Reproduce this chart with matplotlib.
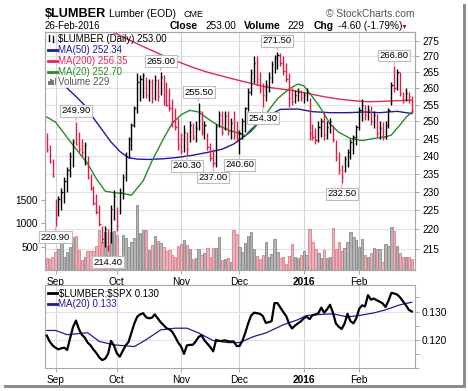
import numpy as np
import pandas as pd
import matplotlib
matplotlib.use('Agg')
import matplotlib.pyplot as plt
from matplotlib.ticker import FixedLocator, NullLocator, FormatStrFormatter, MultipleLocator
from matplotlib.patches import Rectangle
from matplotlib.lines import Line2D
import matplotlib.transforms as mtransforms

plt.rcParams['font.family'] = ['Liberation Sans', 'DejaVu Sans']

# trading days shown on the chart
holidays = ['2015-09-07', '2015-11-26', '2015-12-25', '2016-01-01', '2016-01-18', '2016-02-15']
dates = pd.bdate_range('2015-08-27', '2016-02-26')
dates = dates[~dates.isin(pd.to_datetime(holidays))]

month_starts = ['2015-09-01', '2015-10-01', '2015-11-01', '2015-12-01', '2016-01-01', '2016-02-01']
month_labels = ['Sep', 'Oct', 'Nov', 'Dec', '2016', 'Feb']

high = [
    246.5, 243.0, 239.0, 228.0, 229.0, 231.0, 234.0, 237.0, 241.0, 245.0,
    249.9, 247.0, 245.0, 244.0, 240.0, 235.0, 231.5, 229.5, 226.5, 221.0,
    221.0, 220.0, 226.5, 230.5, 226.0, 231.0, 235.0, 241.0, 245.5, 249.5,
    254.5, 264.7, 264.0, 264.7, 263.5, 263.0, 263.0, 264.0, 263.0, 265.0,
    264.0, 262.0, 260.0, 256.8, 254.0, 251.0, 246.5, 249.0, 247.0, 250.0,
    249.5, 250.0, 255.5, 253.0, 250.0, 246.5, 243.6, 242.0, 249.3, 253.0,
    253.0, 253.0, 253.0, 251.0, 253.0, 250.0, 247.5, 251.0, 254.4, 260.0,
    266.0, 270.0, 270.0, 265.0, 261.5, 262.5, 265.0, 268.5, 270.5, 271.5,
    271.0, 270.0, 268.0, 264.7, 260.0, 259.5, 260.0, 259.5, 259.0, 260.0,
    257.0, 249.3, 248.0, 250.0, 251.0, 252.4, 250.0, 251.0, 249.0, 244.6,
    241.0, 237.5, 240.0, 242.0, 245.0, 246.0, 249.0, 254.4, 256.8, 255.0,
    255.0, 254.5, 253.0, 252.3, 250.0, 249.8, 250.0, 254.0, 262.0, 266.8,
    266.0, 265.0, 259.0, 260.0, 259.0, 257.6]
low = [
    241.0, 238.0, 234.0, 220.9, 223.5, 225.0, 227.0, 230.0, 234.0, 237.0,
    243.0, 241.0, 240.0, 237.5, 233.5, 230.5, 226.5, 224.0, 221.0, 216.5,
    215.5, 214.4, 216.5, 222.5, 219.5, 224.0, 228.0, 233.0, 239.5, 241.8,
    248.5, 252.5, 256.0, 257.0, 257.0, 256.0, 255.5, 256.5, 256.0, 258.0,
    255.0, 254.5, 253.0, 248.5, 247.5, 241.8, 240.5, 241.0, 240.3, 244.0,
    244.5, 244.0, 247.5, 246.0, 245.0, 241.8, 238.6, 237.0, 237.0, 248.5,
    246.0, 247.5, 246.0, 245.0, 245.0, 244.0, 240.6, 245.0, 247.0, 253.0,
    258.0, 261.5, 261.0, 258.5, 254.3, 256.0, 259.0, 261.5, 264.7, 266.0,
    267.0, 264.0, 262.0, 254.4, 255.0, 255.5, 256.0, 256.0, 255.5, 256.0,
    244.6, 244.6, 243.5, 244.0, 245.5, 244.6, 245.0, 246.5, 244.0, 238.6,
    234.8, 232.5, 235.5, 237.0, 239.0, 240.5, 243.0, 247.5, 250.0, 250.5,
    250.5, 249.0, 248.0, 245.5, 245.0, 244.6, 245.0, 248.0, 255.0, 259.0,
    259.5, 257.5, 255.5, 256.0, 255.5, 252.4]
close = [
    242.0, 238.5, 234.5, 223.0, 228.0, 230.0, 233.0, 236.0, 240.0, 244.0,
    243.5, 242.0, 241.0, 243.0, 234.0, 231.0, 227.0, 224.5, 221.5, 217.5,
    220.0, 216.0, 225.5, 229.0, 221.0, 230.0, 234.0, 240.0, 245.0, 249.0,
    254.0, 262.0, 263.0, 264.0, 258.0, 262.0, 257.0, 262.5, 257.5, 263.5,
    256.0, 255.0, 254.0, 250.0, 248.5, 243.0, 241.5, 247.0, 242.0, 249.0,
    245.5, 248.0, 253.0, 247.0, 249.0, 242.5, 239.5, 238.0, 248.5, 252.0,
    247.0, 251.5, 247.0, 249.5, 246.0, 245.0, 246.5, 250.0, 254.0, 259.0,
    265.0, 268.0, 263.0, 259.5, 258.0, 261.0, 263.5, 267.5, 269.5, 270.5,
    268.0, 265.5, 263.0, 257.0, 256.0, 258.0, 259.0, 257.0, 258.0, 258.5,
    246.5, 245.5, 244.5, 248.5, 250.0, 246.0, 248.5, 250.0, 245.0, 239.5,
    236.0, 234.0, 239.0, 241.0, 244.0, 245.5, 248.5, 253.5, 255.0, 252.0,
    253.5, 250.0, 252.0, 246.5, 248.0, 245.5, 249.0, 253.5, 261.0, 260.0,
    265.0, 258.5, 256.5, 258.5, 257.6, 253.0]
volume = [
    250, 230, 285, 390, 440, 640, 285, 390, 500, 715,
    730, 430, 214, 285, 415, 415, 415, 515, 860, 600,
    820, 515, 820, 840, 750, 285, 750, 680, 490, 600,
    680, 1390, 790, 860, 860, 430, 540, 730, 630, 570,
    490, 415, 430, 320, 285, 515, 560, 640, 540, 440,
    230, 250, 440, 320, 370, 465, 285, 465, 465, 700,
    214, 230, 250, 180, 860, 780, 490, 390, 570, 730,
    820, 440, 300, 230, 320, 590, 285, 340, 660, 390,
    250, 285, 130, 300, 560, 285, 250, 320, 415, 320,
    870, 600, 440, 355, 250, 430, 250, 285, 890, 440,
    600, 415, 465, 590, 820, 715, 640, 490, 660, 320,
    270, 370, 465, 440, 440, 180, 560, 515, 930, 840,
    515, 370, 270, 285, 285, 229]

# moving averages (bar number, value)
ma200_day = [20, 25, 30, 35, 40, 45, 50, 55, 60, 65, 70, 75, 80, 85, 90, 95, 100, 105, 110, 115, 120, 125]
ma200_val = [279.0, 276.8, 274.5, 272.3, 270.2, 268.3, 266.5, 265.0, 263.8, 262.6, 261.5,
             260.4, 259.8, 259.2, 258.3, 257.4, 256.7, 256.2, 255.9, 256.0, 256.2, 256.35]
ma50_day = [7, 10, 13, 16, 19, 22, 25, 28, 31, 35, 40, 45, 50, 55, 60, 64, 68, 70, 74, 80,
            86, 91, 97, 103, 109, 114, 120, 125]
ma50_val = [260.0, 257.5, 254.8, 251.0, 247.5, 244.0, 241.3, 239.5, 239.1, 239.0, 239.2,
            239.6, 240.2, 241.0, 241.9, 243.4, 245.8, 247.6, 250.8, 253.6, 253.7, 252.9,
            252.6, 252.6, 252.8, 252.6, 253.0, 252.34]
ma20_day = [0, 3, 7, 10, 14, 17, 20, 23, 26, 29, 33, 36, 40, 43, 46, 49, 52, 56, 59, 63,
            66, 68, 70, 74, 79, 83, 86, 88, 90, 93, 95, 97, 100, 104, 108, 112, 116, 118,
            121, 123, 125]
ma20_val = [251.3, 249.8, 245.3, 242.0, 237.8, 233.6, 230.2, 229.8, 229.6, 229.1, 233.0,
            238.5, 245.0, 249.5, 252.0, 253.3, 252.8, 250.3, 248.7, 247.2, 246.5, 245.8,
            247.0, 251.0, 256.8, 259.8, 261.3, 260.8, 258.5, 255.0, 252.2, 249.3, 246.8,
            245.0, 244.4, 245.0, 245.5, 246.0, 249.0, 251.2, 252.7]

# $LUMBER:$SPX ratio
ratio = [
    .1215, .1194, .1180, .1172, .1166, .1170, .1172, .1164, .1206, .1245,
    .1268, .1238, .1218, .1208, .1190, .1180, .1165, .1153, .1137, .1128,
    .1133, .1150, .1196, .1180, .1152, .1140, .1160, .1180, .1192, .1225,
    .1258, .1282, .1290, .1294, .1280, .1276, .1278, .1290, .1276, .1262,
    .1252, .1241, .1237, .1228, .1210, .1190, .1176, .1150, .1180, .1182,
    .1182, .1194, .1210, .1216, .1198, .1186, .1174, .1159, .1200, .1196,
    .1196, .1198, .1195, .1194, .1194, .1178, .1178, .1196, .1225, .1259,
    .1286, .1296, .1294, .1292, .1284, .1260, .1262, .1266, .1330, .1330,
    .1314, .1298, .1284, .1256, .1240, .1250, .1258, .1265, .1276, .1282,
    .1273, .1287, .1290, .1294, .1314, .1296, .1308, .1324, .1296, .1258,
    .1246, .1238, .1258, .1292, .1266, .1258, .1276, .1310, .1322, .1318,
    .1358, .1342, .1346, .1340, .1335, .1329, .1316, .1338, .1366, .1364,
    .1360, .1350, .1336, .1322, .1306, .1300]
ratio_ma_day = [0, 3, 7, 11, 14, 18, 23, 30, 34, 39, 44, 48, 52, 57, 62, 66, 71, 75, 81,
                86, 89, 94, 98, 103, 107, 112, 116, 121, 125]
ratio_ma_val = [.1233, .1233, .1218, .1222, .1225, .1194, .1182, .1176, .1200, .1235,
                .1241, .1241, .1224, .1197, .1190, .1190, .1212, .1224, .1253, .1271,
                .1286, .1290, .1292, .1281, .1286, .1295, .1306, .1324, .1333]

# labelled highs / lows (bar number)
label_bar = [3, 10, 21, 39, 48, 52, 57, 66, 74, 79, 101, 119]
label_is_high = [False, True, False, True, False, True, False, False, False, True, False, True]

W, H = 468, 391
UP = 'black'
DOWN = '#dc1e46'


def fx(x):
    return x / W


def fy(y):
    return 1 - y / H


x = np.arange(len(dates))
high = np.array(high)
low = np.array(low)
close = np.array(close)
up = np.r_[False, close[1:] > close[:-1]]
bar_col = np.where(up, UP, DOWN)
vol_fill = np.where(up, '#b4b4b4', '#eeb3b9')
vol_edge = np.where(up, '#8a8a8a', '#d9808d')
ticks = [dates.searchsorted(pd.Timestamp(m)) for m in month_starts]
xlim = (-0.6, 126.1)

fig = plt.figure(figsize=(W / 100, H / 100), dpi=100)

# ---- price panel ----
ax = fig.add_axes([fx(45), fy(270), 370 / W, 238 / H])
axp = ax.twinx()
axp.set_yscale('log')
axp.set_ylim(209.7, 277.9)
ax.set_ylim(0, 5100)
ax.set_xlim(*xlim)

trans = mtransforms.blended_transform_factory(ax.transAxes, axp.transData)
price_grid = list(range(215, 280, 5))
for p in price_grid:
    ax.plot([0, 1], [p, p], transform=trans, color='#e2e2e2', lw=0.8, zorder=0.5)
for t in ticks:
    ax.axvline(t, color='#d4d4d4', lw=0.8, zorder=0.5)

ax.bar(x, volume, width=0.8, color=vol_fill, edgecolor=vol_edge, lw=0.6, zorder=1)

axp.plot(ma200_day, ma200_val, color='#e0285a', lw=1.0, zorder=2)
axp.plot(ma50_day, ma50_val, color='#1c1c9c', lw=1.0, zorder=2)
axp.plot(ma20_day, ma20_val, color='#2a8a2a', lw=1.0, zorder=2)
axp.vlines(x, low, high, colors=bar_col, lw=1.0, zorder=3)
axp.hlines(close, x, x + 0.45, colors=bar_col, lw=1.0, zorder=3)

for i, is_high in zip(label_bar, label_is_high):
    p = high[i] if is_high else low[i]
    dy = 11 if is_high else -11
    axp.annotate(f'{p:.2f}', xy=(i, p), xytext=(0, dy), textcoords='offset pixels',
                 ha='center', va='center', fontsize=6.8, zorder=6,
                 bbox=dict(boxstyle='square,pad=0.15', fc='white', ec='#bdbdbd', lw=0.8),
                 arrowprops=dict(arrowstyle='-', color='#bdbdbd', lw=0.8, shrinkA=0, shrinkB=1))

axp.yaxis.set_major_locator(FixedLocator(price_grid))
axp.yaxis.set_minor_locator(NullLocator())
axp.yaxis.set_major_formatter(FormatStrFormatter('%d'))
axp.tick_params(axis='y', labelsize=7.3, length=3, width=0.6, color='#999999', pad=2)
ax.set_yticks([500, 1000, 1500])
ax.tick_params(axis='y', labelsize=7.3, length=3, width=0.6, color='#999999', pad=2)
ax.set_xticks(ticks)
ax.set_xticklabels(month_labels)
ax.tick_params(axis='x', labelsize=7.3, length=3, width=0.6, color='#999999', pad=2)
for a in (ax, axp):
    for s in a.spines.values():
        s.set_color('#a8a8a8')
        s.set_linewidth(0.8)

# ---- ratio panel ----
ax2 = fig.add_axes([fx(45), fy(368), 370 / W, 83 / H])
ax2.set_xlim(*xlim)
ax2.set_ylim(0.1100, 0.1394)
for t in ticks:
    ax2.axvline(t, color='#d4d4d4', lw=0.8, zorder=0.5)
for v in (0.120, 0.130):
    ax2.axhline(v, color='#e2e2e2', lw=0.8, zorder=0.5)
ax2.plot(ratio_ma_day, ratio_ma_val, color='#1c1c9c', lw=0.9, zorder=2)
ax2.plot(x, ratio, color='black', lw=1.6, zorder=3)
ax2.yaxis.tick_right()
ax2.set_yticks([0.120, 0.130])
ax2.set_yticklabels(['0.120', '0.130'])
ax2.yaxis.set_minor_locator(MultipleLocator(0.005))
ax2.tick_params(axis='y', which='both', labelsize=7.3, length=3, width=0.6, color='#999999', pad=2)
ax2.set_xticks(ticks)
ax2.set_xticklabels(month_labels)
ax2.tick_params(axis='x', labelsize=7.3, length=3, width=0.6, color='#999999', pad=2)
for s in ax2.spines.values():
    s.set_color('#a8a8a8')
    s.set_linewidth(0.8)

for a in (ax, ax2):
    for lbl in a.get_xticklabels():
        if lbl.get_text() == '2016':
            lbl.set_fontweight('bold')

# ---- header ----
fig.text(fx(45), fy(17), r'\$LUMBER', fontsize=9.1, fontweight='bold', va='baseline')
fig.text(fx(109), fy(17), 'Lumber (EOD)', fontsize=7.4, va='baseline')
fig.text(fx(183), fy(17), 'CME', fontsize=6.5, va='baseline')
fig.text(fx(415), fy(17), '\u00a9 StockCharts.com', fontsize=7.4, color='#555555',
         ha='right', va='baseline')
fig.text(fx(45), fy(29), '26-Feb-2016', fontsize=7.0, va='baseline')
fig.text(fx(170), fy(29), 'Close', fontsize=7.4, fontweight='bold', va='baseline')
fig.text(fx(205), fy(29), '253.00', fontsize=7.2, va='baseline')
fig.text(fx(244), fy(29), 'Volume', fontsize=7.4, fontweight='bold', va='baseline')
fig.text(fx(287), fy(29), '229', fontsize=7.2, va='baseline')
fig.text(fx(314), fy(29), 'Chg', fontsize=7.4, fontweight='bold', va='baseline')
fig.text(fx(338), fy(29), '-4.60 (-1.79%)', fontsize=7.2, va='baseline')
fig.text(fx(404.5), fy(29), '\u25bc', fontsize=5, color='#c8102e', ha='center', va='baseline')

# ---- legends ----
fig.add_artist(Line2D([fx(49), fx(49)], [fy(35), fy(41)], color='black', lw=1))
fig.add_artist(Line2D([fx(53), fx(53)], [fy(36), fy(42)], color='black', lw=1))
fig.text(fx(58), fy(42), r'\$LUMBER (Daily) 253.00', fontsize=7, va='baseline')
legend_rows = [('MA(50) 252.34', '#1c1c9c', 53), ('MA(200) 256.35', '#e0285a', 64),
               ('MA(20) 252.70', '#2a8a2a', 75)]
for txt, col, yb in legend_rows:
    fig.add_artist(Line2D([fx(48), fx(57)], [fy(yb - 3.5), fy(yb - 3.5)], color=col, lw=2))
    fig.text(fx(58), fy(yb), txt, fontsize=7, color=col, va='baseline')
for k, hgt in enumerate([4, 6, 5, 7]):
    fig.add_artist(Rectangle((fx(48 + 2.2 * k), fy(85)), 1.6 / W, hgt / H, color='#777777', lw=0))
fig.text(fx(58), fy(85), 'Volume 229', fontsize=7, color='#555555', va='baseline')

fig.add_artist(Line2D([fx(48), fx(57)], [fy(293), fy(293)], color='black', lw=2))
fig.text(fx(59), fy(296.5), r'\$LUMBER:\$SPX 0.130', fontsize=7, va='baseline')
fig.add_artist(Line2D([fx(48), fx(57)], [fy(303.5), fy(303.5)], color='#1c1c9c', lw=2))
fig.text(fx(58), fy(307), 'MA(20) 0.133', fontsize=7, color='#1c1c9c', va='baseline')

# drop shadow
fig.add_artist(Rectangle((fx(463), fy(388)), 3 / W, 384 / H, color='#8c8c8c', lw=0))
fig.add_artist(Rectangle((fx(4), fy(388)), 462 / W, 3 / H, color='#8c8c8c', lw=0))

fig.savefig('out.png', dpi=100)
